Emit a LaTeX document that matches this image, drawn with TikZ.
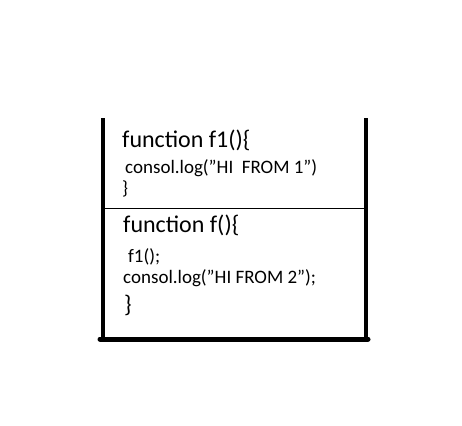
\documentclass[tikz,border=0pt]{standalone}
\usepackage{fontspec}
\defaultfontfeatures{}
\setmainfont{Carlito}[Ligatures={ResetAll}]
\newcommand\dq{\symbol{34}}
\begin{document}
\begin{tikzpicture}[x=1pt,y=-1pt,
  wall/.style={line width=4.5pt,line cap=butt},
  divider/.style={line width=1pt},
  big/.style={anchor=base west,inner sep=0pt,font=\fontsize{24}{28}\selectfont},
  small/.style={anchor=base west,inner sep=0pt,font=\fontsize{19}{23}\selectfont}]
\useasboundingbox[fill=white] (0,0) rectangle (462,425);
% stack walls
\coordinate (lt) at (103,118);
\coordinate (lb) at (103,340);
\coordinate (rt) at (366,118);
\coordinate (rb) at (366,340);
\draw[wall] (lt) -- (lb);
\draw[wall] (rt) -- (rb);
\draw[wall,line width=5pt,line cap=round] (100,339) -- (368,339);
\draw[divider] (103,208) -- (366,208);
% frame 1
\node[big] (t1) at (122,147) {function f1()\{};
\node[small] (t2) at (125,173) {consol.log(\dq HI\ \ FROM 1\dq)};
\node[small] (t3) at (122,194) {\}};
% frame 2
\node[big] (u1) at (123,232) {function f()\{};
\node[small] (u2) at (128,262) {f1();};
\node[small] (u3) at (123,283) {consol.log(\dq HI FROM 2\dq);};
\node[big] (u4) at (124,312) {\}};
\end{tikzpicture}
\end{document}
